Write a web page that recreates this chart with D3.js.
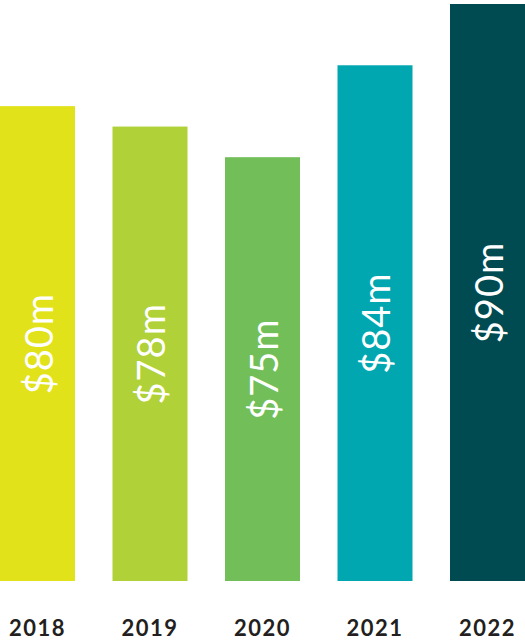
<!DOCTYPE html>
<html>
<head>
<meta charset="utf-8">
<script src="https://cdn.jsdelivr.net/npm/d3@7"></script>
<style>
  html, body { margin: 0; padding: 0; background: #fff; }
  svg { display: block; }
</style>
</head>
<body>
<svg id="chart" width="525" height="642"></svg>
<script>
// data
const years = ["2018", "2019", "2020", "2021", "2022"];
const revenue = [80, 78, 75, 84, 90];
const labels = ["$80m", "$78m", "$75m", "$84m", "$90m"];
const colors = ["#e2e21a", "#b0d137", "#72bf5a", "#00a7b0", "#004b52"];

const svg = d3.select("#chart");
const width = +svg.attr("width");
const baseY = 581;

const x = d3.scaleBand()
  .domain(years)
  .range([0, width])
  .paddingInner(1 / 3)
  .paddingOuter(0);

// bars don't start at zero in the original, fitted domain
const y = d3.scaleLinear()
  .domain([33.5, 90])
  .range([baseY, 4]);

const rows = years.map((yr, i) => ({ year: yr, value: revenue[i], label: labels[i], color: colors[i] }));

svg.append("g")
  .selectAll("rect")
  .data(rows)
  .join("rect")
  .attr("x", d => x(d.year))
  .attr("y", d => y(d.value))
  .attr("width", x.bandwidth())
  .attr("height", d => baseY - y(d.value))
  .attr("fill", d => d.color);

svg.append("g")
  .selectAll("text")
  .data(rows)
  .join("text")
  .attr("transform", d => {
    const cx = x(d.year) + x.bandwidth() / 2;
    const cy = (y(d.value) + baseY) / 2;
    return `translate(${cx},${cy}) rotate(-90)`;
  })
  .attr("text-anchor", "middle")
  .attr("dominant-baseline", "central")
  .attr("fill", "#fff")
  .style("font-family", "Lato, 'Open Sans', sans-serif")
  .style("font-size", "38px")
  .style("letter-spacing", "1px")
  .text(d => d.label);

svg.append("g")
  .selectAll("text")
  .data(rows)
  .join("text")
  .attr("x", d => x(d.year) + x.bandwidth() / 2)
  .attr("y", 636)
  .attr("text-anchor", "middle")
  .attr("fill", "#231f20")
  .style("font-family", "Lato, 'Open Sans', sans-serif")
  .style("font-weight", "bold")
  .style("font-size", "22px")
  .style("letter-spacing", "1.5px")
  .text(d => d.year);
</script>
</body>
</html>
